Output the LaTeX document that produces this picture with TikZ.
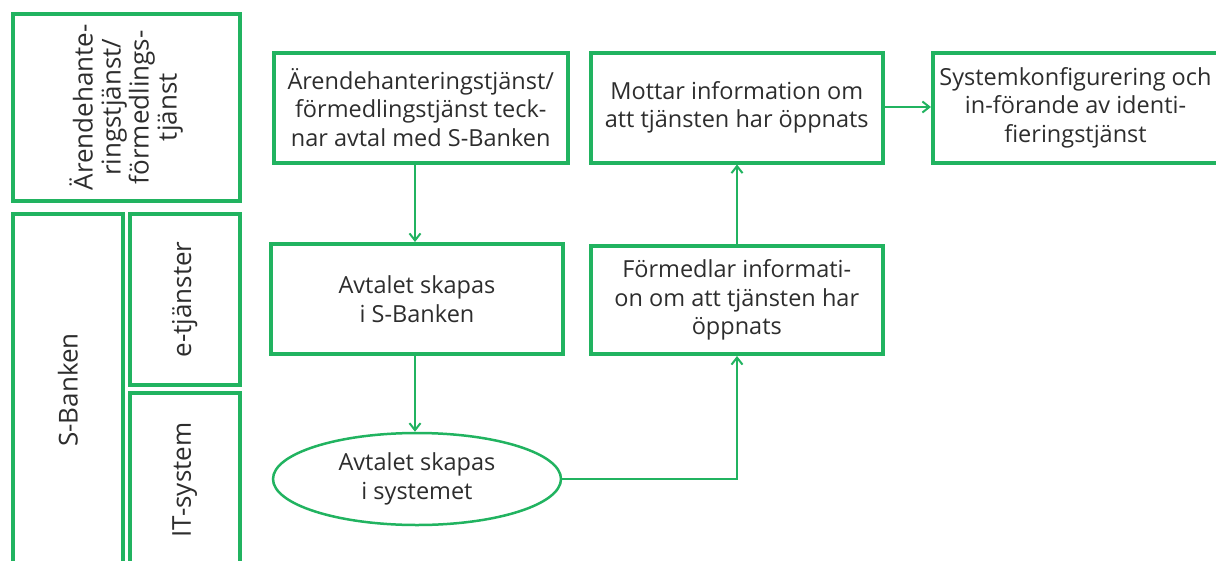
\documentclass[tikz,border=0pt]{standalone}
\usepackage{fontspec}
\setmainfont{Open Sans}
\usetikzlibrary{arrows.meta,shapes.geometric}
\definecolor{sgreen}{RGB}{33,179,96}
\definecolor{stext}{RGB}{45,45,45}
\tikzset{
  box/.style={draw=sgreen, line width=4pt, rectangle, inner sep=0pt, align=center, text=stext, font=\fontsize{23.5}{28.5}\selectfont},
  lane/.style={box, rotate=90, font=\fontsize{26}{28}\selectfont},
  oval/.style={draw=sgreen, line width=2.5pt, ellipse, inner sep=0pt, align=center, text=stext, font=\fontsize{23.5}{28.5}\selectfont},
  conn/.style={draw=sgreen, line width=2pt, -{Straight Barb[length=7pt,width=11pt,line width=2pt]}}
}
\begin{document}
\begin{tikzpicture}[x=1pt,y=-1pt]
\useasboundingbox (0,0) rectangle (1216,560);
\clip (0,0) rectangle (1216,560);
% lanes
\node[lane, minimum width=186.5pt, minimum height=227.5pt] (l1) at (126.25,107.25) {Ärendehante-\\ringstjänst/\\förmedlings-\\tjänst};
\node[lane, minimum width=352pt, minimum height=110.5pt] (l2) at (67.75,390) {S-Banken};
\node[lane, minimum width=171pt, minimum height=110.5pt] (l3) at (184.75,299.5) {e-tjänster};
\node[lane, minimum width=174pt, minimum height=110.5pt] (l4) at (184.75,480) {IT-system};
% process boxes
\node[box, minimum width=293.5pt, minimum height=110pt] (a) at (420.75,107.5) {Ärendehanteringstjänst/\\förmedlingstjänst teck-\\nar avtal med S-Banken};
\node[box, minimum width=292pt, minimum height=110pt] (b) at (417,299) {Avtalet skapas\\i S-Banken};
\node[oval, minimum width=288pt, minimum height=92pt] (c) at (417,479) {Avtalet skapas\\i systemet};
\node[box, minimum width=291.5pt, minimum height=108pt] (d) at (736.75,300) {Förmedlar informati-\\on om att tjänsten har\\öppnats};
\node[box, minimum width=291.5pt, minimum height=110pt] (e) at (736.75,107.5) {Mottar information om\\att tjänsten har öppnats};
\node[box, minimum width=285pt, minimum height=110pt] (f) at (1075.5,107.5) {Systemkonfigurering och\\in-förande av identi-\\fieringstjänst};
% connectors
\draw[conn] (a.south -| 415,0) -- (b.north -| 415,0);
\draw[conn] (b.south -| 415,0) -- (c.north -| 415,0);
\coordinate (k) at (737,479);
\draw[conn] (c.east) -- (k) -- (d.south -| k);
\draw[conn] (d.north -| k) -- (e.south -| k);
\draw[conn] (e.east |- 0,107) -- (f.west |- 0,107);
\end{tikzpicture}
\end{document}
